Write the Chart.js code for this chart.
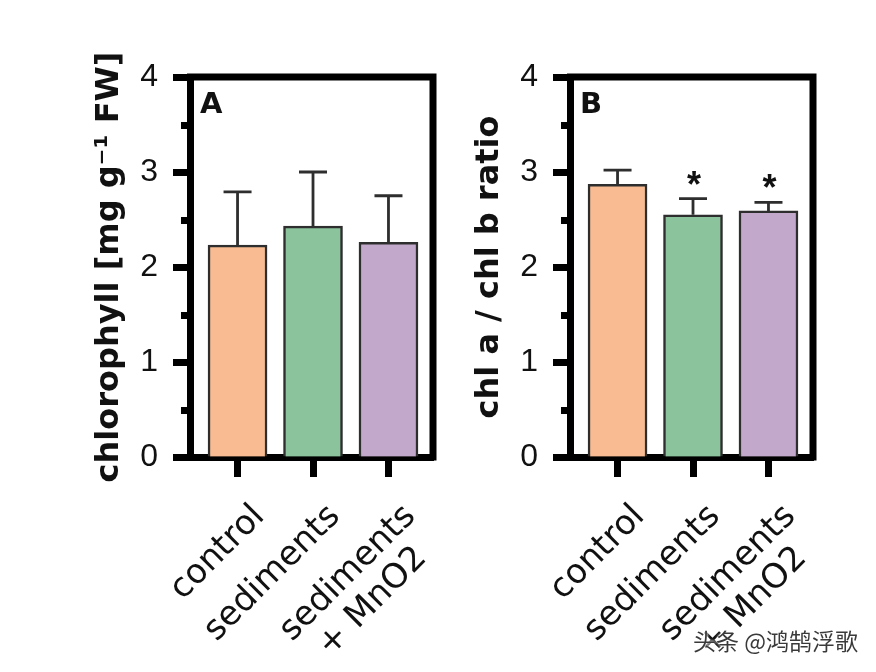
<!DOCTYPE html>
<html><head><meta charset="utf-8">
<script src="https://cdn.jsdelivr.net/npm/chart.js@4.4.1/dist/chart.umd.min.js"></script>
<style>
html,body{margin:0;padding:0;background:#fff;width:876px;height:672px;overflow:hidden;position:relative;}
canvas{position:absolute;top:0;}
#cA{left:0;} #cB{left:380px;}
#wm{position:absolute;left:693px;top:623px;font:23px "Noto Sans CJK SC";color:#3a3a3a;text-shadow:0 0 3px #fff,0 0 3px #fff;white-space:nowrap;}
</style></head><body>
<canvas id="cA" width="445" height="672"></canvas>
<canvas id="cB" width="445" height="672"></canvas>
<div id="wm">头条 @鸿鹄浮歌</div>
<script>
// ---- data ----
const categories = ['control', 'sediments', 'sediments + MnO2'];
const yTicks = [0, 1, 2, 3, 4];
const chlMean = [2.23, 2.43, 2.26];
const chlErr = [0.56, 0.57, 0.49];
const ratioMean = [2.87, 2.55, 2.59];
const ratioErr = [0.15, 0.17, 0.09];
const ratioSig = ['', '*', '*'];
const barColors = ['#F9BC92', '#8BC49C', '#C2A9CB'];

function labelLines(c) {
  if (c.includes(' + ')) {
    const p = c.split(' + ');
    return [p[0], '+ ' + p[1] + '  '];
  }
  return c;
}

const extras = {
  id: 'extras',
  afterDatasetsDraw(chart, args, opts) {
    const {ctx, scales: {x, y}} = chart;
    const ds = chart.data.datasets[0];
    ctx.save();
    ctx.strokeStyle = '#2e2e2e';
    ctx.lineWidth = 2.8;
    ds.data.forEach((pt, i) => {
      const px = x.getPixelForValue(pt.x);
      const top = y.getPixelForValue(pt.y);
      const hi = y.getPixelForValue(pt.y + opts.err[i]);
      ctx.beginPath();
      ctx.moveTo(px, top); ctx.lineTo(px, hi);
      ctx.moveTo(px - 14, hi); ctx.lineTo(px + 14, hi);
      ctx.stroke();
      if (opts.sig && opts.sig[i]) {
        ctx.fillStyle = '#111';
        ctx.font = 'bold 36px "Liberation Sans"';
        ctx.textAlign = 'center';
        ctx.textBaseline = 'alphabetic';
        ctx.fillText(opts.sig[i], px + 1, hi - 2);
      }
    });
    ctx.restore();
  },
  afterDraw(chart, args, opts) {
    const {ctx, chartArea: a, scales: {y}} = chart;
    ctx.save();
    ctx.strokeStyle = '#000';
    ctx.lineWidth = 7;
    ctx.beginPath();
    ctx.moveTo(a.left - 3, a.top); ctx.lineTo(a.right + 3.5, a.top);
    ctx.moveTo(a.right, a.top); ctx.lineTo(a.right, a.bottom + 3.5);
    for (let k = 0; k < yTicks.length - 1; k++) {
      const v = (yTicks[k] + yTicks[k + 1]) / 2;
      const py = Math.round(y.getPixelForValue(v)) + 0.5;
      ctx.moveTo(a.left - 9, py); ctx.lineTo(a.left, py);
    }
    ctx.stroke();
    ctx.fillStyle = '#111';
    ctx.font = 'bold 29px "DejaVu Sans"';
    ctx.textAlign = 'left';
    ctx.textBaseline = 'alphabetic';
    ctx.fillText(opts.letter, a.left + 10, a.top + 36);
    ctx.restore();
  }
};

function makeChart(id, means, errs, sig, title, letter) {
  return new Chart(document.getElementById(id), {
    type: 'bar',
    data: {
      datasets: [{
        data: means.map((v, i) => ({x: i + 1, y: v})),
        backgroundColor: barColors,
        borderColor: '#2e2e2e',
        borderWidth: 2.5,
        barThickness: 59
      }]
    },
    options: {
      responsive: false,
      devicePixelRatio: 1,
      animation: false,
      layout: {padding: {left: 90, top: 77, right: 12, bottom: 15}},
      plugins: {
        legend: {display: false},
        tooltip: {enabled: false},
        extras: {err: errs, sig: sig, letter: letter}
      },
      scales: {
        x: {
          type: 'linear',
          min: 0.37, max: 3.59,
          offset: false,
          afterBuildTicks: s => { s.ticks = categories.map((c, i) => ({value: i + 1})); },
          afterFit: s => { s.height = 200; s.paddingLeft = 0; s.paddingRight = 0; },
          ticks: {
            callback: v => labelLines(categories[Math.round(v) - 1]),
            font: {family: 'DejaVu Sans', size: 34, lineHeight: 1.1},
            color: '#111',
            minRotation: 45, maxRotation: 45,
            autoSkip: false,
            padding: 21,
            labelOffset: 22
          },
          grid: {drawOnChartArea: false, drawTicks: true, tickLength: 20, tickWidth: 7, tickColor: '#000', offset: false},
          border: {display: true, width: 7, color: '#000'}
        },
        y: {
          min: 0, max: 4,
          afterBuildTicks: s => { s.ticks = yTicks.map(v => ({value: v})); },
          afterFit: s => { s.width = 100; s.paddingTop = 0; s.paddingBottom = 0; },
          ticks: {
            font: {family: 'Liberation Sans', size: 32},
            color: '#111',
            padding: 15
          },
          grid: {drawOnChartArea: false, drawTicks: true, tickLength: 17, tickWidth: 7, tickColor: '#000'},
          border: {display: true, width: 7, color: '#000'},
          title: {
            display: true,
            text: title,
            font: {family: 'DejaVu Sans', size: 32, weight: 'bold'},
            color: '#111',
            padding: {top: 0, bottom: 0}
          }
        }
      }
    },
    plugins: [extras]
  });
}

makeChart('cA', chlMean, chlErr, null, 'chlorophyll [mg g\u207B\u00B9 FW]', 'A');
makeChart('cB', ratioMean, ratioErr, ratioSig, 'chl a / chl b ratio', 'B');
</script>
</body></html>
